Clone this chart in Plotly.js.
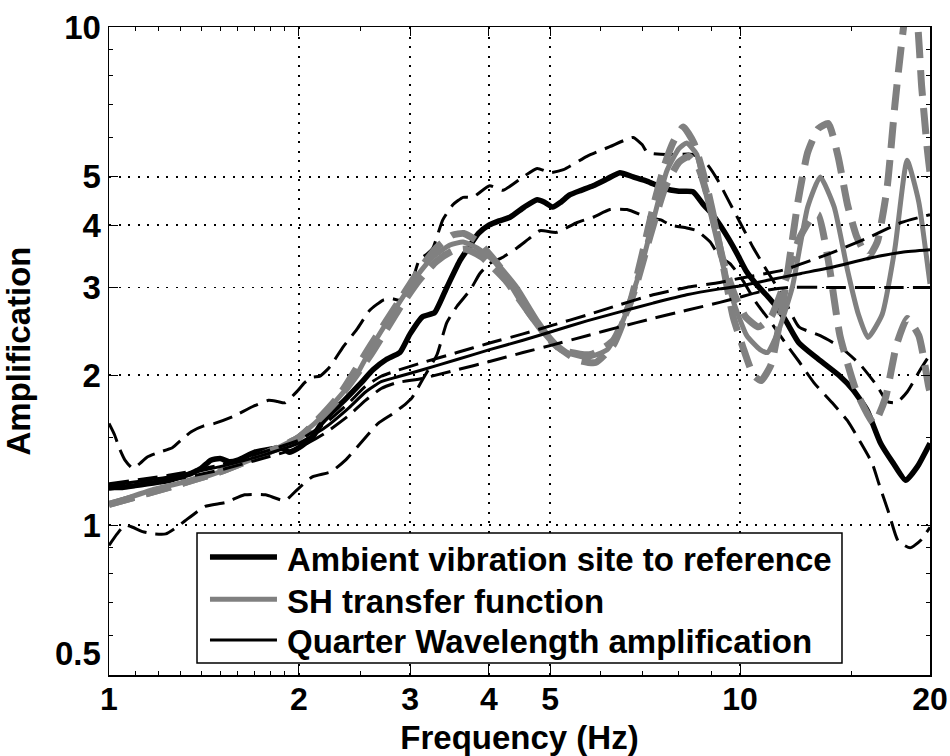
<!DOCTYPE html>
<html>
<head>
<meta charset="utf-8">
<script src="https://cdn.plot.ly/plotly-3.0.1.min.js"></script>
<style>html,body{margin:0;padding:0;background:#fff;}#chart{width:950px;height:756px;}</style>
</head>
<body>
<div id="chart"></div>
<script>
// ---------- data (Hz, amplification) ----------
const ambFreq = [1.00,1.05,1.10,1.15,1.20,1.25,1.30,1.35,1.40,1.45,1.50,1.55,1.60,1.70,1.80,1.88,1.93,2.00,2.10,2.17,2.25,2.36,2.50,2.62,2.75,2.89,3.00,3.14,3.28,3.43,3.60,3.70,3.85,4.00,4.15,4.32,4.55,4.77,4.90,5.05,5.20,5.37,5.60,5.85,6.15,6.45,6.77,7.13,7.55,8.00,8.42,8.75,9.05,9.30,9.60,9.90,10.25,10.6,11.0,11.4,11.8,12.4,13.2,14.4,15.1,15.9,16.7,17.5,18.3,19.1,20.0];
const ambMean = [1.19,1.19,1.20,1.21,1.22,1.23,1.25,1.27,1.30,1.35,1.36,1.34,1.35,1.40,1.42,1.43,1.40,1.43,1.50,1.60,1.68,1.78,1.92,2.05,2.15,2.22,2.42,2.62,2.67,3.00,3.40,3.58,3.85,4.00,4.08,4.15,4.35,4.50,4.45,4.35,4.45,4.60,4.70,4.80,4.95,5.10,5.00,4.90,4.75,4.68,4.67,4.40,4.20,4.00,3.75,3.50,3.22,3.05,2.90,2.75,2.58,2.32,2.17,1.99,1.87,1.70,1.46,1.33,1.23,1.31,1.46];

const ambHiFreq = [1.00,1.02,1.04,1.06,1.09,1.12,1.15,1.20,1.26,1.30,1.35,1.41,1.47,1.57,1.69,1.79,1.85,1.90,1.99,2.04,2.10,2.16,2.24,2.35,2.47,2.59,2.72,2.80,2.89,3.00,3.10,3.19,3.26,3.38,3.51,3.64,3.77,4.01,4.21,4.53,4.77,5.00,5.25,5.72,6.22,6.77,7.00,7.13,7.49,8.00,8.42,8.87,9.20,9.53,10.0,10.5,11.1,11.7,12.4,13.4,14.4,15.5,16.5,17.1,17.7,18.4,19.3,20.0];
const ambHi = [1.60,1.52,1.42,1.35,1.30,1.33,1.37,1.40,1.43,1.48,1.54,1.58,1.60,1.65,1.73,1.78,1.77,1.76,1.86,1.93,1.98,1.99,2.08,2.28,2.47,2.70,2.83,2.85,2.83,3.00,3.40,3.50,3.60,4.10,4.40,4.55,4.55,4.80,4.70,5.00,5.20,5.10,5.17,5.50,5.75,6.00,5.80,5.60,5.55,5.55,5.55,5.30,4.95,4.55,4.05,3.60,3.20,2.87,2.50,2.40,2.28,2.10,1.90,1.77,1.76,1.85,2.05,2.20];

const ambLoFreq = [1.00,1.03,1.06,1.09,1.13,1.18,1.23,1.28,1.32,1.42,1.53,1.64,1.77,1.90,1.99,2.10,2.25,2.37,2.48,2.67,2.81,2.95,3.02,3.14,3.31,3.43,3.56,3.74,3.87,4.01,4.21,4.43,4.62,4.82,5.12,5.52,5.85,6.22,6.62,7.13,7.49,7.77,8.23,8.54,8.97,9.29,9.64,10.1,10.6,11.2,11.8,12.4,13.1,14.0,14.8,15.5,16.2,16.6,17.2,17.8,18.6,19.3,20.0];
const ambLo = [0.91,0.96,1.00,0.99,0.97,0.96,0.96,0.99,1.02,1.09,1.11,1.15,1.15,1.12,1.18,1.25,1.28,1.35,1.44,1.60,1.67,1.75,1.80,1.96,2.20,2.55,2.75,2.97,3.20,3.35,3.45,3.60,3.75,3.90,3.87,4.05,4.15,4.30,4.30,4.15,4.10,4.00,3.95,3.90,3.70,3.45,3.35,3.10,2.80,2.55,2.32,2.13,1.93,1.76,1.62,1.47,1.33,1.21,1.06,0.93,0.90,0.93,0.99];

const shFreq = [1.00,1.18,1.42,1.60,1.81,1.99,2.14,2.31,2.45,2.62,2.86,3.07,3.26,3.47,3.64,3.83,4.12,4.43,4.77,5.18,5.72,6.16,6.53,6.95,7.29,7.66,8.00,8.23,8.54,8.75,9.07,9.41,9.75,10.25,10.76,11.05,11.5,12.1,12.8,13.4,14.1,14.8,15.4,15.95,16.8,17.6,18.4,19.2,19.9,20.0];
const shMid = [1.10,1.18,1.25,1.32,1.41,1.50,1.62,1.80,1.97,2.30,2.75,3.15,3.45,3.65,3.70,3.60,3.35,3.00,2.58,2.25,2.17,2.25,2.58,3.25,4.10,5.15,5.70,5.85,5.55,4.85,4.00,3.30,2.82,2.40,2.25,2.22,2.45,3.00,4.35,5.00,4.35,3.25,2.65,2.38,2.65,3.60,5.40,4.45,3.20,3.05];

const shHiFreq = [1.00,1.50,2.00,2.30,2.60,2.90,3.10,3.30,3.50,3.65,3.85,4.20,4.60,5.00,5.50,5.90,6.30,6.70,7.00,7.30,7.60,7.85,8.13,8.45,8.87,9.20,9.75,10.1,10.5,10.8,11.2,11.8,12.35,12.8,13.3,13.8,14.3,14.8,15.3,15.95,16.5,17.1,17.6,18.0,18.5,19.0,19.4,19.8,20.0];
const shHi = [1.10,1.28,1.50,1.80,2.30,2.85,3.25,3.60,3.82,3.85,3.70,3.25,2.70,2.35,2.15,2.12,2.30,2.80,3.50,4.40,5.30,5.90,6.30,5.85,4.75,3.85,2.62,2.28,2.00,1.95,2.10,3.00,4.45,5.60,6.25,6.40,5.50,4.40,3.80,3.45,3.70,4.75,7.00,9.10,11.5,10.8,7.60,5.70,5.10];

const shLoFreq = [1.00,1.50,2.00,2.30,2.60,2.90,3.10,3.30,3.50,3.68,3.90,4.25,4.70,5.20,5.80,6.30,6.80,7.20,7.60,8.00,8.30,8.60,9.00,9.40,9.80,10.2,10.7,11.2,11.8,12.4,13.0,13.3,13.8,14.4,15.3,16.3,17.0,17.7,18.4,19.2,19.9,20.0];
const shLo = [1.10,1.28,1.50,1.78,2.20,2.75,3.10,3.38,3.55,3.58,3.45,3.10,2.60,2.25,2.20,2.35,2.95,3.80,4.75,5.35,5.50,5.20,4.30,3.40,2.90,2.62,2.50,2.62,3.10,3.75,4.15,4.20,3.40,2.40,1.85,1.60,1.80,2.30,2.60,2.40,1.90,1.85];

const qwlFreq = [1.00,1.25,1.50,1.75,2.00,2.20,2.40,2.55,2.70,2.85,3.14,3.56,4.01,4.53,5.05,5.72,6.45,7.28,8.23,9.29,10.0,11.05,12.5,14.1,15.95,18.06,20.0];
const qwlMid = [1.20,1.25,1.31,1.38,1.46,1.57,1.72,1.85,1.94,1.98,2.05,2.15,2.25,2.35,2.45,2.57,2.68,2.79,2.90,2.98,3.02,3.10,3.20,3.30,3.43,3.53,3.57];

const qwlHiFreq = [1.00,1.25,1.50,1.75,2.00,2.20,2.40,2.55,2.70,2.85,3.14,3.56,4.01,4.53,5.05,5.72,6.45,7.28,8.23,9.29,10.0,11.7,13.8,16.0,18.0,20.0];
const qwlHi = [1.21,1.26,1.32,1.40,1.48,1.60,1.76,1.90,1.99,2.04,2.12,2.22,2.32,2.42,2.52,2.64,2.77,2.90,3.00,3.07,3.13,3.25,3.50,3.78,4.05,4.20];

const qwlLoFreq = [1.00,1.25,1.50,1.75,2.00,2.20,2.40,2.55,2.70,2.85,3.14,3.56,4.01,4.53,5.05,5.72,6.45,7.28,8.23,9.29,10.0,11.0,12.0,14.0,17.0,20.0];
const qwlLo = [1.18,1.23,1.29,1.36,1.43,1.53,1.66,1.78,1.88,1.93,1.97,2.05,2.13,2.22,2.30,2.40,2.50,2.60,2.70,2.80,2.87,2.96,3.00,3.00,3.00,3.00];

const xTicks = [1,2,3,4,5,10,20];
const xTickText = ['1','2','3','4','5','10','20'];
const xMinor = [1.1,1.2,1.3,1.4,1.5,1.6,1.7,1.8,1.9,2.5,6,7,8,9,15];
const yTicks = [0.5,1,2,3,4,5,10];
const yTickText = ['0.5<br> ','1','2','3','4','5','10'];
const yMinor = [0.6,0.7,0.8,0.9,1.5,6,7,8,9];

const legendNames = ['Ambient vibration site to reference','SH transfer function','Quarter Wavelength amplification'];

// ---------- styles ----------
const GREY = '#808080';
const thinDash = '20px,9px';
const greyDash = '26px,12px';
const FONT = 'Liberation Sans, Arial, Helvetica, sans-serif';

function tr(x, y, color, width, dash, name) {
  return {x: x, y: y, type: 'scatter', mode: 'lines', name: name, showlegend: false,
          hoverinfo: 'skip',
          line: {color: color, width: width, dash: dash, shape: 'spline', smoothing: 0.5}};
}

const data = [
  tr(ambHiFreq, ambHi, 'black', 3, thinDash, 'Ambient +'),
  tr(ambLoFreq, ambLo, 'black', 3, thinDash, 'Ambient -'),
  tr(ambFreq, ambMean, 'black', 5.5, 'solid', legendNames[0]),
  tr(shHiFreq, shHi, GREY, 7, greyDash, 'SH +'),
  tr(shLoFreq, shLo, GREY, 7, greyDash, 'SH -'),
  tr(shFreq, shMid, GREY, 5, 'solid', legendNames[1]),
  tr(qwlHiFreq, qwlHi, 'black', 3, thinDash, 'QWL +'),
  tr(qwlLoFreq, qwlLo, 'black', 3, thinDash, 'QWL -'),
  tr(qwlFreq, qwlMid, 'black', 3, 'solid', legendNames[2])
];

// custom legend (paper coords)
const legRows = [0.182, 0.117, 0.054];
const legStyles = [{color:'black', width:5.5}, {color:GREY, width:5}, {color:'black', width:3}];
const shapes = [{type:'rect', xref:'paper', yref:'paper', x0:0.1072, x1:0.8928, y0:0.0185, y1:0.2191,
                 fillcolor:'white', line:{color:'black', width:1.5}, layer:'above'}];
const annotations = [];
legRows.forEach(function(yy, i) {
  shapes.push({type:'line', xref:'paper', yref:'paper', x0:0.123, x1:0.2046, y0:yy, y1:yy,
               line: legStyles[i], layer:'above'});
  annotations.push({xref:'paper', yref:'paper', x:0.2144, y:yy - 0.003, xanchor:'left', yanchor:'middle',
                    text: legendNames[i], showarrow:false,
                    font:{family:FONT, size:33, color:'black', weight:'bold'}});
});

const axisCommon = {
  type: 'log', showline: true, linecolor: 'black', linewidth: 1.5, mirror: 'ticks',
  ticks: 'inside', ticklen: 9, tickwidth: 1, tickcolor: 'black',
  showgrid: true, gridcolor: 'black', gridwidth: 1.5, griddash: '2px,7.5px',
  zeroline: false, tickmode: 'array'
};

const layout = {
  width: 950, height: 756,
  margin: {l: 109, r: 20, t: 27, b: 81},
  paper_bgcolor: 'white', plot_bgcolor: 'white',
  showlegend: false,
  xaxis: Object.assign({}, axisCommon, {
    range: [0, Math.log10(20)], tickvals: xTicks, ticktext: xTickText,
    tickfont: {family: FONT, size: 32, color: 'black', weight: 'bold'},
    ticklabelstandoff: -5,
    minor: {tickmode: 'array', tickvals: xMinor, ticks: 'inside', ticklen: 4, tickwidth: 1, tickcolor: 'black', showgrid: false},
    title: {text: 'Frequency (Hz)', standoff: 12, font: {family: FONT, size: 33, color: 'black', weight: 'bold'}},
    automargin: false
  }),
  yaxis: Object.assign({}, axisCommon, {
    range: [Math.log10(0.5), 1], tickvals: yTicks, ticktext: yTickText,
    tickfont: {family: FONT, size: 33, color: 'black', weight: 'bold'},
    minor: {tickmode: 'array', tickvals: yMinor, ticks: 'inside', ticklen: 4, tickwidth: 1, tickcolor: 'black', showgrid: false},
    title: {text: 'Amplification', standoff: 14, font: {family: FONT, size: 33, color: 'black', weight: 'bold'}},
    automargin: false
  }),
  shapes: shapes,
  annotations: annotations
};

Plotly.newPlot('chart', data, layout, {displayModeBar: false, staticPlot: true});
</script>
</body>
</html>
